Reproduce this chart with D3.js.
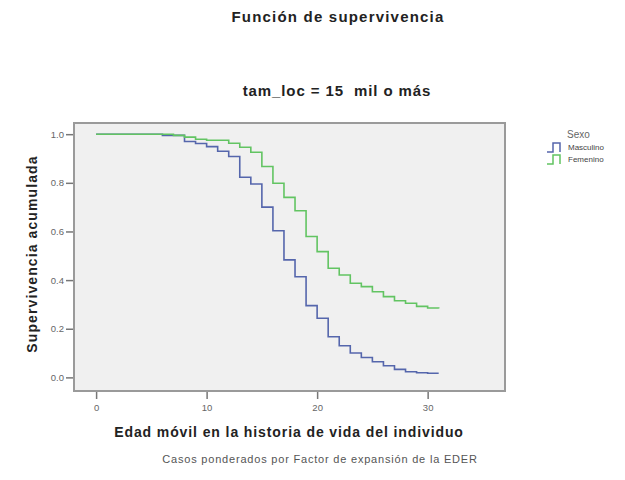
<!DOCTYPE html>
<html>
<head>
<meta charset="utf-8">
<script src="https://cdnjs.cloudflare.com/ajax/libs/d3/7.8.5/d3.min.js"></script>
<style>
body { margin: 0; background: #fff; }
svg text { font-family: "Liberation Sans", Arial, sans-serif; white-space: pre; }
</style>
</head>
<body>
<svg id="chart" width="625" height="480"></svg>
<script>
// survival steps (age, cumulative survival)
var ageMasc = [0, 6, 8, 9, 10, 11, 12, 13, 14, 15, 16, 17, 18, 19, 20, 21, 22, 23, 24, 25, 26, 27, 28, 29, 30, 31];
var survMasc = [1.0, 0.995, 0.97, 0.962, 0.949, 0.93, 0.908, 0.823, 0.795, 0.70, 0.603, 0.483, 0.414, 0.295, 0.243, 0.167, 0.13, 0.10, 0.082, 0.064, 0.048, 0.033, 0.023, 0.019, 0.017, 0.017];
var ageFem = [0, 7, 8, 9, 10, 12, 13, 14, 15, 16, 17, 18, 19, 20, 21, 22, 23, 24, 25, 26, 27, 28, 29, 30, 31];
var survFem = [1.0, 0.995, 0.988, 0.979, 0.975, 0.963, 0.946, 0.926, 0.867, 0.798, 0.74, 0.685, 0.579, 0.517, 0.449, 0.421, 0.387, 0.373, 0.352, 0.332, 0.315, 0.305, 0.292, 0.285, 0.283];

var seriesNames = ["Masculino", "Femenino"];
var seriesColors = ["#5566ac", "#62c462"];
var xTicks = [0, 10, 20, 30];
var yTicks = [0.0, 0.2, 0.4, 0.6, 0.8, 1.0];

var svg = d3.select("#chart");

var box = {left: 74, top: 123, right: 505, bottom: 391};

var x = d3.scaleLinear().domain([-2, 37]).range([box.left, box.right]);
var y = d3.scaleLinear().domain([-0.056, 1.046]).range([box.bottom, box.top]);

// titles
svg.append("text").attr("x", 338).attr("y", 22).attr("text-anchor", "middle")
    .style("font-size", "15px").style("font-weight", "bold").style("letter-spacing", "1.2px").style("fill", "#222")
    .text("Función de supervivencia");
svg.append("text").attr("x", 337).attr("y", 96).attr("text-anchor", "middle")
    .style("font-size", "15px").style("font-weight", "bold").style("letter-spacing", "0.9px").style("fill", "#222")
    .text("tam_loc = 15  mil o más");

// plot area
svg.append("rect")
    .attr("x", box.left).attr("y", box.top)
    .attr("width", box.right - box.left).attr("height", box.bottom - box.top)
    .style("fill", "#f0f0f0").style("stroke", "#9a9a9a").style("stroke-width", 2);

// axes
var yAxis = d3.axisLeft(y).tickValues(yTicks).tickFormat(d3.format(".1f")).tickSize(7).tickPadding(2);
var gy = svg.append("g").attr("transform", "translate(" + (box.left - 1) + ",0)").call(yAxis);
var xAxis = d3.axisBottom(x).tickValues(xTicks).tickFormat(d3.format("d")).tickSize(7).tickPadding(5);
var gx = svg.append("g").attr("transform", "translate(0," + (box.bottom + 1) + ")").call(xAxis);
[gx, gy].forEach(function(g) {
    g.select(".domain").remove();
    g.selectAll(".tick line").style("stroke", "#777").style("stroke-width", 1.5);
    g.selectAll(".tick text").style("font-size", "9.5px").style("fill", "#666")
        .style("font-family", "'Liberation Sans', Arial, sans-serif");
});

// step lines
var line = d3.line()
    .x(function(d) { return x(d[0]); })
    .y(function(d) { return y(d[1]); })
    .curve(d3.curveStepAfter);

var data = [d3.zip(ageMasc, survMasc), d3.zip(ageFem, survFem)];
svg.selectAll("path.surv")
    .data(data)
    .enter()
    .append("path")
    .attr("class", "surv")
    .attr("d", line)
    .style("fill", "none")
    .style("stroke", function(d, i) { return seriesColors[i]; })
    .style("stroke-width", 1.6);

// axis titles
svg.append("text")
    .attr("transform", "translate(37,254) rotate(-90)")
    .attr("text-anchor", "middle")
    .style("font-size", "14px").style("font-weight", "bold").style("letter-spacing", "1.1px").style("fill", "#222")
    .text("Supervivencia acumulada");
svg.append("text").attr("x", 289).attr("y", 437).attr("text-anchor", "middle")
    .style("font-size", "14px").style("font-weight", "bold").style("letter-spacing", "0.9px").style("fill", "#222")
    .text("Edad móvil en la historia de vida del individuo");
svg.append("text").attr("x", 320).attr("y", 463).attr("text-anchor", "middle")
    .style("font-size", "11px").style("letter-spacing", "0.8px").style("fill", "#555")
    .text("Casos ponderados por Factor de expansión de la EDER");

// legend
var leg = svg.append("g").attr("transform", "translate(547,0)");
leg.append("text").attr("x", 20).attr("y", 138)
    .style("font-size", "10px").style("fill", "#666").text("Sexo");
var items = leg.selectAll("g.item")
    .data(seriesNames)
    .enter()
    .append("g")
    .attr("class", "item")
    .attr("transform", function(d, i) { return "translate(0," + (147 + i * 12) + ")"; });
items.append("path")
    .attr("d", "M0,5H6V-4H13V5")
    .style("fill", "none")
    .style("stroke", function(d, i) { return seriesColors[i]; })
    .style("stroke-width", 1.5);
items.append("text").attr("x", 21).attr("y", 3)
    .style("font-size", "8px").style("fill", "#444")
    .text(function(d) { return d; });
</script>
</body>
</html>
